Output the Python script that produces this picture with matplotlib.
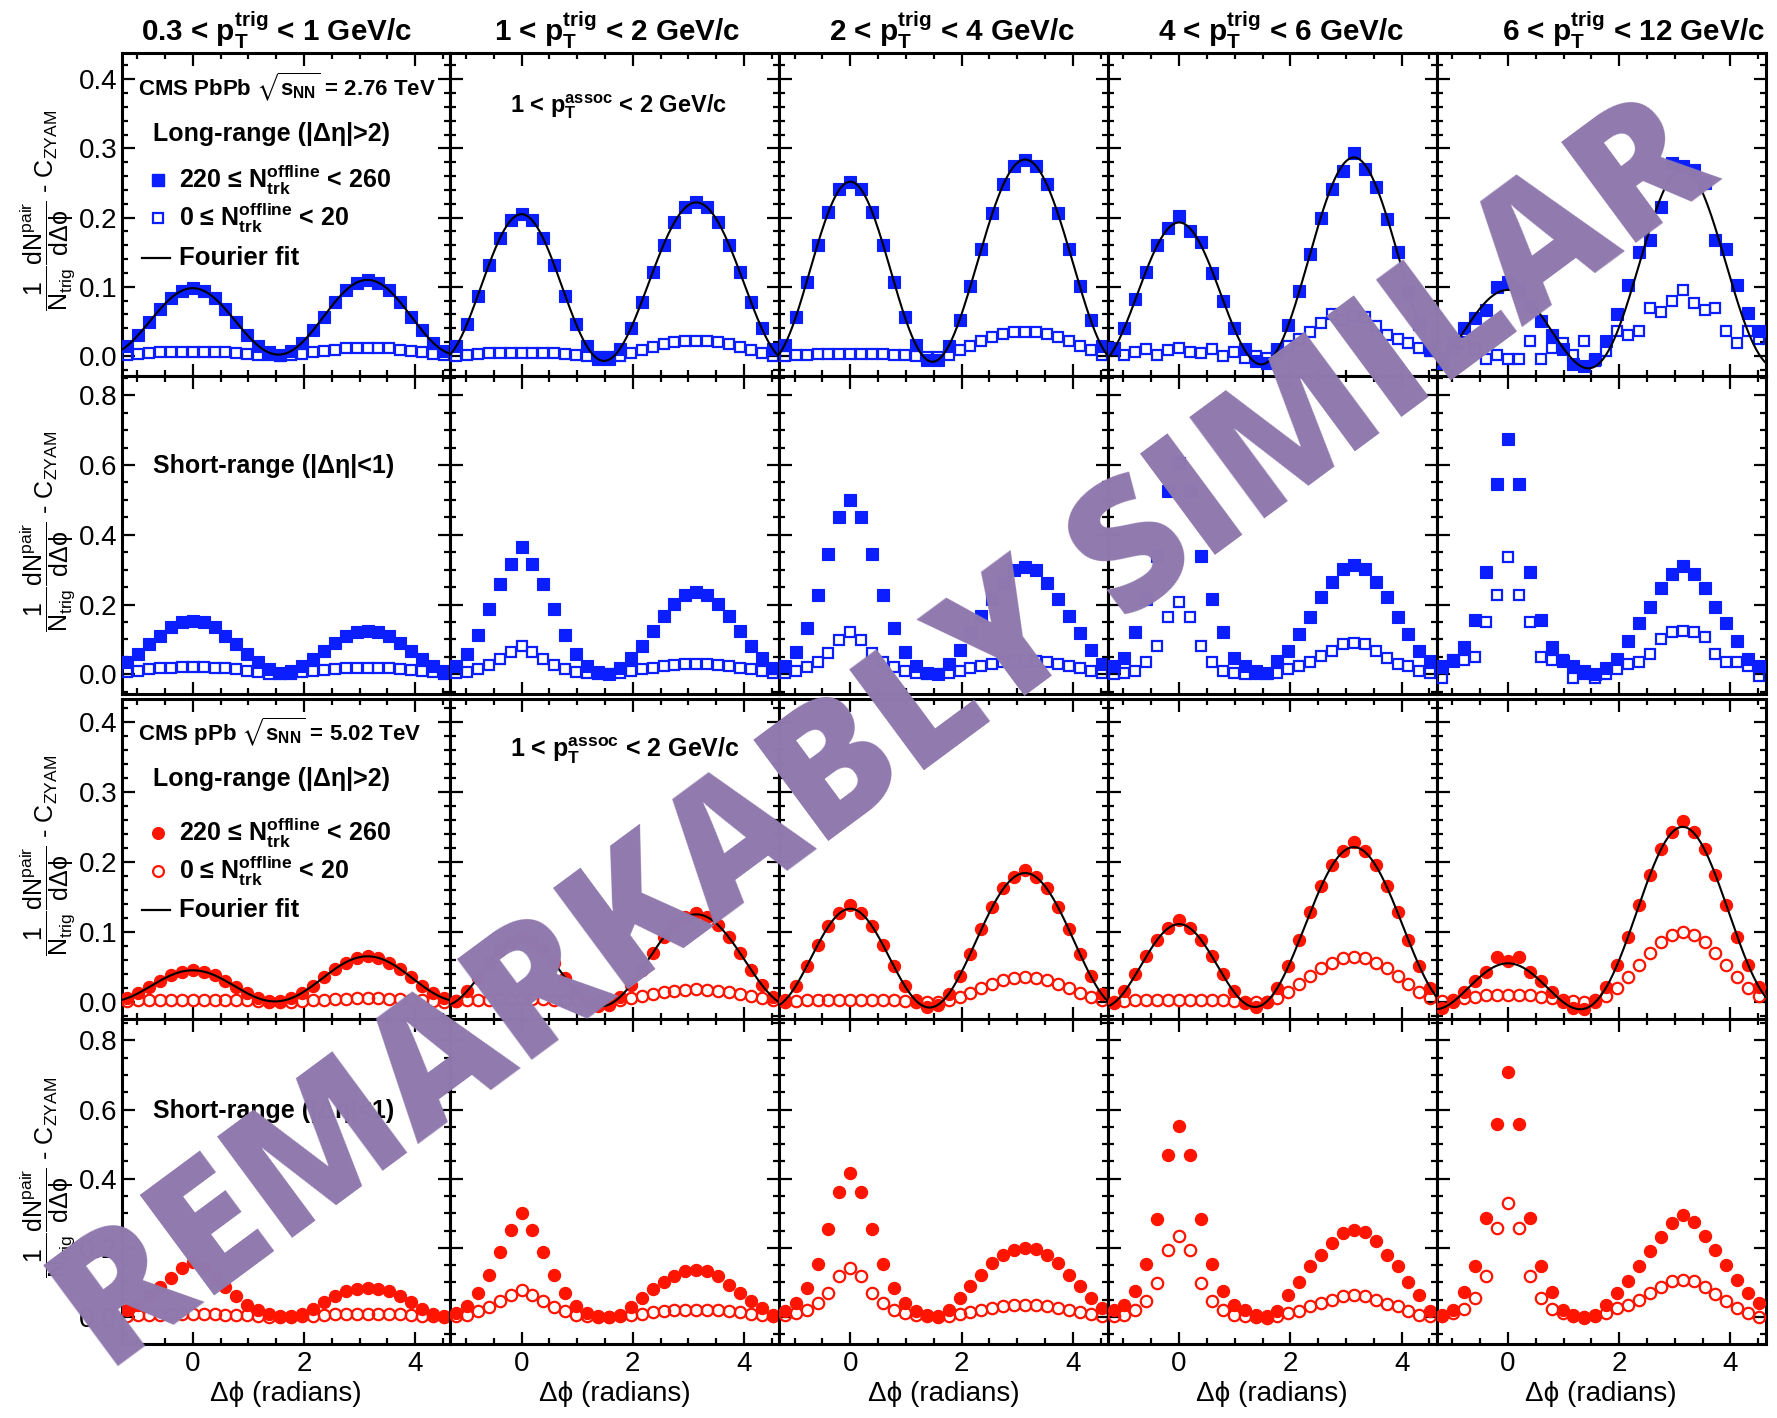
import numpy as np
import matplotlib
matplotlib.use("Agg")
import matplotlib.pyplot as plt
from matplotlib.ticker import MultipleLocator, FormatStrFormatter

plt.rcParams["font.family"] = ["Liberation Sans", "DejaVu Sans"]
plt.rcParams["mathtext.fontset"] = "custom"
plt.rcParams["mathtext.rm"] = "Liberation Sans"
plt.rcParams["mathtext.it"] = "Liberation Sans"
plt.rcParams["mathtext.bf"] = "Liberation Sans:bold"
plt.rcParams["mathtext.fallback"] = "stixsans"

# ---------- data ----------
# delta-phi bin centres (radians)
DPHI = [-1.178, -0.982, -0.785, -0.589, -0.393, -0.196, 0.000, 0.196, 0.393, 0.589,
        0.785, 0.982, 1.178, 1.374, 1.571, 1.767, 1.963, 2.160, 2.356, 2.553,
        2.749, 2.945, 3.142, 3.338, 3.534, 3.731, 3.927, 4.123, 4.320, 4.516]

PT_TRIG = ["0.3 < p$_{\\mathbf{T}}^{\\mathbf{trig}}$ < 1 GeV/c",
           "1 < p$_{\\mathbf{T}}^{\\mathbf{trig}}$ < 2 GeV/c",
           "2 < p$_{\\mathbf{T}}^{\\mathbf{trig}}$ < 4 GeV/c",
           "4 < p$_{\\mathbf{T}}^{\\mathbf{trig}}$ < 6 GeV/c",
           "6 < p$_{\\mathbf{T}}^{\\mathbf{trig}}$ < 12 GeV/c"]

# PbPb, long range, 220 <= Ntrk < 260 (filled squares)
PBPB_LR_HIGH = [
    [0.015, 0.030, 0.049, 0.068, 0.084, 0.094, 0.098, 0.094, 0.084, 0.068, 0.049, 0.030, 0.015, 0.005, 0.002,
     0.007, 0.019, 0.037, 0.057, 0.078, 0.095, 0.106, 0.110, 0.106, 0.095, 0.078, 0.057, 0.037, 0.019, 0.007],
    [0.014, 0.046, 0.087, 0.131, 0.170, 0.196, 0.205, 0.196, 0.170, 0.131, 0.087, 0.046, 0.014, -0.004, -0.005,
     0.010, 0.040, 0.078, 0.121, 0.161, 0.193, 0.215, 0.222, 0.215, 0.193, 0.161, 0.121, 0.078, 0.040, 0.010],
    [0.016, 0.056, 0.107, 0.161, 0.208, 0.241, 0.252, 0.241, 0.208, 0.161, 0.107, 0.056, 0.016, -0.006, -0.006,
     0.014, 0.052, 0.101, 0.155, 0.206, 0.248, 0.275, 0.284, 0.275, 0.248, 0.206, 0.155, 0.101, 0.052, 0.014],
    [0.012, 0.040, 0.082, 0.122, 0.160, 0.185, 0.203, 0.180, 0.165, 0.120, 0.080, 0.041, 0.010, -0.008, -0.010,
     0.010, 0.045, 0.094, 0.148, 0.200, 0.242, 0.268, 0.293, 0.270, 0.245, 0.198, 0.150, 0.092, 0.046, 0.008],
    [-0.010, 0.020, 0.040, 0.055, 0.067, 0.100, 0.107, 0.095, 0.072, 0.050, 0.030, 0.010, -0.012, -0.015, -0.005,
     0.021, 0.060, 0.102, 0.150, 0.167, 0.215, 0.279, 0.274, 0.269, 0.250, 0.167, 0.155, 0.102, 0.062, 0.036],
]
# PbPb, long range, 0 <= Ntrk < 20 (open squares)
PBPB_LR_LOW = [
    [0.002, 0.003, 0.004, 0.005, 0.006, 0.006, 0.006, 0.006, 0.006, 0.005, 0.004, 0.003, 0.002, 0.001, 0.000,
     0.001, 0.003, 0.005, 0.007, 0.009, 0.011, 0.012, 0.012, 0.012, 0.011, 0.009, 0.007, 0.005, 0.003, 0.001],
    [0.000, 0.002, 0.003, 0.004, 0.004, 0.004, 0.004, 0.004, 0.004, 0.004, 0.003, 0.002, 0.000, -0.002, -0.002,
     0.000, 0.004, 0.009, 0.013, 0.017, 0.020, 0.021, 0.022, 0.021, 0.020, 0.017, 0.013, 0.009, 0.004, 0.000],
    [0.000, 0.001, 0.002, 0.003, 0.003, 0.003, 0.003, 0.003, 0.003, 0.003, 0.002, 0.001, 0.000, -0.002, -0.002,
     0.002, 0.008, 0.015, 0.022, 0.028, 0.032, 0.034, 0.035, 0.034, 0.032, 0.028, 0.022, 0.015, 0.008, 0.002],
    [0.010, 0.002, 0.006, 0.010, 0.002, 0.008, 0.012, 0.006, 0.004, 0.010, 0.000, 0.005, -0.003, 0.000, -0.003,
     0.005, 0.015, 0.025, 0.035, 0.048, 0.060, 0.052, 0.058, 0.057, 0.043, 0.031, 0.024, 0.019, 0.012, 0.010],
    [-0.005, 0.012, 0.020, 0.010, -0.005, 0.002, -0.005, -0.005, 0.021, -0.005, 0.012, 0.019, 0.002, 0.021, -0.007,
     0.007, 0.036, 0.031, 0.036, 0.069, 0.064, 0.079, 0.095, 0.076, 0.067, 0.069, 0.036, 0.019, 0.036, 0.024],
]
# PbPb, short range
PBPB_SR_HIGH = [
    [0.034, 0.058, 0.087, 0.110, 0.135, 0.149, 0.154, 0.149, 0.135, 0.110, 0.087, 0.058, 0.034, 0.014, 0.005,
     0.010, 0.024, 0.043, 0.067, 0.091, 0.110, 0.120, 0.125, 0.120, 0.110, 0.091, 0.067, 0.043, 0.024, 0.010],
    [0.024, 0.058, 0.113, 0.186, 0.260, 0.317, 0.365, 0.317, 0.260, 0.186, 0.113, 0.058, 0.024, 0.007, 0.000,
     0.018, 0.048, 0.082, 0.125, 0.168, 0.202, 0.226, 0.236, 0.226, 0.202, 0.168, 0.125, 0.082, 0.048, 0.018],
    [0.024, 0.064, 0.133, 0.226, 0.344, 0.450, 0.500, 0.450, 0.344, 0.226, 0.133, 0.064, 0.024, 0.005, 0.000,
     0.030, 0.070, 0.118, 0.166, 0.216, 0.262, 0.298, 0.308, 0.298, 0.262, 0.216, 0.166, 0.118, 0.070, 0.030],
    [0.024, 0.048, 0.120, 0.216, 0.340, 0.524, 0.606, 0.524, 0.340, 0.216, 0.120, 0.048, 0.024, 0.010, 0.003,
     0.038, 0.067, 0.115, 0.163, 0.221, 0.264, 0.303, 0.313, 0.303, 0.264, 0.221, 0.163, 0.115, 0.067, 0.038],
    [0.024, 0.038, 0.077, 0.157, 0.293, 0.545, 0.673, 0.545, 0.293, 0.157, 0.077, 0.038, 0.024, 0.010, 0.000,
     0.019, 0.043, 0.096, 0.147, 0.192, 0.247, 0.288, 0.310, 0.288, 0.247, 0.192, 0.147, 0.096, 0.043, 0.024],
]
PBPB_SR_LOW = [
    [0.006, 0.010, 0.014, 0.017, 0.019, 0.020, 0.020, 0.020, 0.019, 0.017, 0.014, 0.010, 0.006, 0.002, 0.000,
     0.002, 0.006, 0.010, 0.013, 0.016, 0.018, 0.019, 0.019, 0.019, 0.018, 0.016, 0.013, 0.010, 0.006, 0.002],
    [0.003, 0.007, 0.015, 0.028, 0.045, 0.063, 0.080, 0.063, 0.045, 0.028, 0.015, 0.007, 0.003, 0.001, 0.000,
     0.003, 0.008, 0.014, 0.019, 0.024, 0.027, 0.029, 0.030, 0.029, 0.027, 0.024, 0.019, 0.014, 0.008, 0.003],
    [0.005, 0.010, 0.020, 0.035, 0.060, 0.098, 0.120, 0.098, 0.060, 0.035, 0.020, 0.010, 0.005, 0.002, 0.000,
     0.004, 0.010, 0.017, 0.024, 0.030, 0.034, 0.037, 0.038, 0.037, 0.034, 0.030, 0.024, 0.017, 0.010, 0.004],
    [0.002, 0.004, 0.010, 0.034, 0.082, 0.163, 0.207, 0.163, 0.082, 0.034, 0.010, 0.004, 0.002, 0.000, 0.000,
     0.005, 0.015, 0.024, 0.034, 0.053, 0.067, 0.087, 0.091, 0.087, 0.067, 0.048, 0.029, 0.024, 0.010, 0.005],
    [-0.010, 0.040, 0.041, 0.050, 0.149, 0.228, 0.337, 0.228, 0.149, 0.050, 0.041, 0.040, -0.010, 0.000, -0.010,
     0.000, 0.014, 0.029, 0.034, 0.058, 0.101, 0.120, 0.125, 0.120, 0.106, 0.058, 0.034, 0.034, 0.024, -0.005],
]
# pPb, long range (filled / open circles)
PPB_LR_HIGH = [
    [0.005, 0.012, 0.021, 0.030, 0.038, 0.043, 0.045, 0.043, 0.038, 0.030, 0.021, 0.012, 0.005, 0.001, 0.001,
     0.005, 0.013, 0.023, 0.035, 0.047, 0.056, 0.063, 0.065, 0.063, 0.056, 0.047, 0.035, 0.023, 0.013, 0.005],
    [0.001, 0.015, 0.034, 0.055, 0.074, 0.086, 0.093, 0.086, 0.074, 0.055, 0.034, 0.015, 0.001, -0.006, -0.004,
     0.007, 0.024, 0.046, 0.070, 0.092, 0.110, 0.121, 0.127, 0.121, 0.110, 0.092, 0.070, 0.046, 0.024, 0.007],
    [0.002, 0.022, 0.051, 0.081, 0.108, 0.127, 0.138, 0.127, 0.108, 0.081, 0.051, 0.022, 0.002, -0.008, -0.005,
     0.011, 0.037, 0.069, 0.104, 0.136, 0.162, 0.179, 0.188, 0.179, 0.162, 0.136, 0.104, 0.069, 0.037, 0.011],
    [-0.002, 0.015, 0.039, 0.065, 0.089, 0.106, 0.117, 0.106, 0.089, 0.065, 0.039, 0.015, -0.002, -0.007, 0.000,
     0.020, 0.051, 0.088, 0.128, 0.165, 0.195, 0.215, 0.229, 0.215, 0.195, 0.165, 0.128, 0.088, 0.051, 0.020],
    [-0.009, 0.000, 0.014, 0.029, 0.043, 0.064, 0.058, 0.064, 0.043, 0.029, 0.014, 0.000, -0.009, -0.010, -0.001,
     0.021, 0.053, 0.093, 0.138, 0.181, 0.218, 0.242, 0.259, 0.242, 0.218, 0.181, 0.138, 0.093, 0.053, 0.021],
]
PPB_LR_LOW = [
    [0.001, 0.002, 0.002, 0.003, 0.003, 0.003, 0.003, 0.003, 0.003, 0.003, 0.002, 0.002, 0.001, 0.000, 0.000,
     0.000, 0.001, 0.002, 0.003, 0.004, 0.004, 0.005, 0.005, 0.005, 0.004, 0.004, 0.003, 0.002, 0.001, 0.000],
    [0.001, 0.002, 0.003, 0.003, 0.004, 0.004, 0.004, 0.004, 0.004, 0.003, 0.003, 0.002, 0.001, 0.000, 0.000,
     0.002, 0.005, 0.008, 0.011, 0.014, 0.016, 0.017, 0.018, 0.017, 0.016, 0.014, 0.011, 0.008, 0.005, 0.002],
    [0.000, 0.001, 0.002, 0.003, 0.003, 0.003, 0.003, 0.003, 0.003, 0.003, 0.002, 0.001, 0.000, -0.001, -0.001,
     0.002, 0.007, 0.013, 0.020, 0.026, 0.031, 0.034, 0.035, 0.034, 0.031, 0.026, 0.020, 0.013, 0.007, 0.002],
    [0.000, 0.001, 0.002, 0.002, 0.003, 0.003, 0.003, 0.003, 0.003, 0.002, 0.002, 0.001, 0.000, -0.001, 0.000,
     0.005, 0.014, 0.025, 0.037, 0.048, 0.056, 0.062, 0.064, 0.062, 0.056, 0.048, 0.037, 0.025, 0.014, 0.005],
    [0.001, 0.003, 0.005, 0.007, 0.009, 0.010, 0.010, 0.010, 0.009, 0.007, 0.005, 0.003, 0.001, 0.000, 0.002,
     0.008, 0.020, 0.035, 0.052, 0.070, 0.085, 0.096, 0.100, 0.096, 0.085, 0.070, 0.052, 0.035, 0.020, 0.008],
]
# pPb, short range
PPB_SR_HIGH = [
    [0.020, 0.036, 0.060, 0.087, 0.112, 0.142, 0.160, 0.142, 0.112, 0.087, 0.060, 0.036, 0.020, 0.010, 0.004,
     0.003, 0.010, 0.024, 0.044, 0.062, 0.074, 0.081, 0.083, 0.081, 0.074, 0.062, 0.044, 0.024, 0.010, 0.003],
    [0.012, 0.033, 0.069, 0.122, 0.187, 0.251, 0.301, 0.251, 0.187, 0.122, 0.069, 0.033, 0.012, 0.003, 0.000,
     0.005, 0.028, 0.055, 0.080, 0.100, 0.118, 0.132, 0.137, 0.132, 0.118, 0.093, 0.069, 0.045, 0.026, 0.007],
    [0.016, 0.040, 0.084, 0.154, 0.255, 0.363, 0.416, 0.363, 0.255, 0.154, 0.084, 0.040, 0.016, 0.007, 0.002,
     0.021, 0.055, 0.089, 0.122, 0.156, 0.180, 0.195, 0.200, 0.197, 0.180, 0.156, 0.122, 0.089, 0.055, 0.026],
    [0.021, 0.036, 0.076, 0.154, 0.284, 0.469, 0.553, 0.469, 0.284, 0.154, 0.076, 0.036, 0.021, 0.007, 0.002,
     0.016, 0.065, 0.100, 0.147, 0.180, 0.214, 0.243, 0.253, 0.245, 0.219, 0.180, 0.147, 0.100, 0.065, 0.016],
    [0.007, 0.021, 0.071, 0.148, 0.286, 0.559, 0.710, 0.559, 0.286, 0.148, 0.071, 0.021, 0.007, -0.003, 0.005,
     0.035, 0.069, 0.103, 0.147, 0.190, 0.231, 0.272, 0.296, 0.274, 0.233, 0.193, 0.151, 0.108, 0.069, 0.040],
]
PPB_SR_LOW = [
    [0.003, 0.005, 0.006, 0.007, 0.008, 0.008, 0.008, 0.008, 0.008, 0.007, 0.006, 0.005, 0.003, 0.001, 0.000,
     0.001, 0.002, 0.004, 0.006, 0.008, 0.009, 0.010, 0.010, 0.010, 0.009, 0.008, 0.006, 0.004, 0.002, 0.001],
    [0.003, 0.007, 0.016, 0.030, 0.045, 0.065, 0.077, 0.065, 0.045, 0.030, 0.016, 0.007, 0.003, 0.001, 0.000,
     0.002, 0.006, 0.010, 0.014, 0.017, 0.019, 0.020, 0.020, 0.020, 0.019, 0.017, 0.014, 0.010, 0.006, 0.002],
    [0.006, 0.012, 0.021, 0.040, 0.069, 0.118, 0.142, 0.118, 0.069, 0.040, 0.021, 0.012, 0.006, 0.002, 0.000,
     0.003, 0.008, 0.014, 0.021, 0.027, 0.032, 0.035, 0.036, 0.035, 0.032, 0.027, 0.021, 0.014, 0.008, 0.003],
    [0.003, 0.007, 0.021, 0.045, 0.098, 0.195, 0.233, 0.195, 0.098, 0.045, 0.021, 0.007, 0.003, 0.000, -0.002,
     0.004, 0.012, 0.016, 0.031, 0.040, 0.050, 0.062, 0.065, 0.060, 0.050, 0.038, 0.031, 0.016, 0.007, 0.002],
    [0.003, 0.012, 0.023, 0.055, 0.120, 0.257, 0.330, 0.257, 0.120, 0.055, 0.023, 0.012, 0.003, 0.000, 0.003,
     0.012, 0.026, 0.036, 0.050, 0.069, 0.087, 0.103, 0.108, 0.103, 0.087, 0.066, 0.047, 0.026, 0.012, 0.000],
]

# Fourier fit coefficients a0 + a1 cos + a2 cos2 + a3 cos3 (long range, high multiplicity)
FIT_PBPB = [(0.053, -0.006, 0.051, 0.0), (0.104, -0.016, 0.1095, 0.0075), (0.131, -0.025, 0.137, 0.009),
            (0.115, -0.047, 0.125, 0.0), (0.084, -0.0775, 0.099, -0.010)]
FIT_PPB = [(0.028, -0.010, 0.027, 0.0), (0.052, -0.021, 0.056, 0.004), (0.077, -0.0315, 0.0815, 0.006),
           (0.083, -0.059, 0.083, 0.004), (0.076, -0.0925, 0.0765, -0.005)]

# ---------- style / layout ----------
W, H = 1777, 1418
BLUE = "#0a1eff"
RED = "#ff1400"
WATERMARK = "#9079ae"
XLIM = (-1.28, 4.63)
COL_X = [121.5, 450.3, 779.1, 1107.9, 1436.7]
COL_W = 328.8
ROW_Y = [(53.3, 376.0), (376.0, 694.0), (699.0, 1019.0), (1019.0, 1344.0)]
ROW_YLIM = [(-0.029, 0.4376), (-0.0565, 0.855), (-0.0246, 0.4327), (-0.078, 0.862)]
TITLE_X = [277, 617, 952, 1281, 1633]

ROWS = [
    (PBPB_LR_HIGH, PBPB_LR_LOW, FIT_PBPB, BLUE, "s", 0.1, 0.02),
    (PBPB_SR_HIGH, PBPB_SR_LOW, None, BLUE, "s", 0.2, 0.05),
    (PPB_LR_HIGH, PPB_LR_LOW, FIT_PPB, RED, "o", 0.1, 0.02),
    (PPB_SR_HIGH, PPB_SR_LOW, None, RED, "o", 0.2, 0.05),
]

YLABEL = (r"$\dfrac{1}{\mathrm{N_{trig}}}\dfrac{\mathrm{dN^{pair}}}{\mathrm{d}\Delta\phi}$"
          r" - C$_{\mathrm{ZYAM}}$")


def fx(px):
    return px / W


def fy(py):
    return 1 - py / H


fig = plt.figure(figsize=(W / 100, H / 100), dpi=100)
fig.patch.set_facecolor("white")

axes = {}
for r, (high, low, fits, color, mk, major, minor) in enumerate(ROWS):
    top, bot = ROW_Y[r]
    for c in range(5):
        ax = fig.add_axes([fx(COL_X[c]), fy(bot), COL_W / W, (bot - top) / H])
        axes[(r, c)] = ax
        ms = 8.4 if mk == "s" else 8.8
        ax.plot(DPHI, high[c], linestyle="none", marker=mk, ms=ms, mfc=color, mec=color, mew=0.8, zorder=3)
        ax.plot(DPHI, low[c], linestyle="none", marker=mk, ms=ms - 0.6, mfc="none", mec=color, mew=1.6, zorder=4)
        if fits is not None:
            a0, a1, a2, a3 = fits[c]
            phi = np.linspace(XLIM[0], XLIM[1], 400)
            fit = a0 + a1 * np.cos(phi) + a2 * np.cos(2 * phi) + a3 * np.cos(3 * phi)
            ax.plot(phi, fit, color="black", lw=1.5, zorder=5)
        ax.set_xlim(*XLIM)
        ax.set_ylim(*ROW_YLIM[r])
        ax.xaxis.set_major_locator(MultipleLocator(2))
        ax.xaxis.set_minor_locator(MultipleLocator(0.5))
        ax.yaxis.set_major_locator(MultipleLocator(major))
        ax.yaxis.set_minor_locator(MultipleLocator(minor))
        ax.yaxis.set_major_formatter(FormatStrFormatter("%.1f"))
        ax.tick_params(which="both", direction="in", top=True, right=True, width=1.6,
                       labelsize=20, colors="black")
        ax.tick_params(which="major", length=9)
        ax.tick_params(which="minor", length=4.5)
        ax.tick_params(axis="y", pad=3)
        ax.tick_params(axis="x", pad=5)
        if c != 0:
            ax.tick_params(labelleft=False)
        if r != 3:
            ax.tick_params(labelbottom=False)
        for s in ax.spines.values():
            s.set_linewidth(2.2)

# column titles
for c, t in enumerate(PT_TRIG):
    fig.text(fx(TITLE_X[c]), fy(30), t, ha="center", va="center", fontsize=21.3, fontweight="bold")

# y labels
for r in range(4):
    top, bot = ROW_Y[r]
    fig.text(fx(47), fy((top + bot) / 2 - 4), YLABEL, rotation=90, ha="center", va="center", fontsize=18)

# x labels
for c in range(5):
    fig.text(fx(COL_X[c] + COL_W / 2), fy(1394), "Δϕ (radians)", ha="center", va="center", fontsize=20)

# ---------- in-panel annotations ----------
BOLD = dict(fontweight="bold", va="center", ha="left")
for r, system, energy, color, mk in [(0, "PbPb", "2.76", BLUE, "s"), (2, "pPb", "5.02", RED, "o")]:
    ax = axes[(r, 0)]
    base = 0.897
    ax.text(0.05, base, "CMS %s $\\sqrt{\\mathbf{s}_{\\mathbf{NN}}}$ = %s TeV" % (system, energy),
            transform=ax.transAxes, fontsize=16, **BOLD)
    ax.text(0.095, base - 0.147, "Long-range (|Δη|>2)", transform=ax.transAxes, fontsize=18, **BOLD)
    y1 = base - 0.29 if r == 0 else base - 0.316
    y2 = y1 - 0.118
    y3 = y2 - 0.122
    ax.plot([0.112], [y1], marker=mk, ms=8.4, mfc=color, mec=color, transform=ax.transAxes)
    ax.plot([0.112], [y2], marker=mk, ms=7.8, mfc="none", mec=color, mew=1.6, transform=ax.transAxes)
    ax.plot([0.062, 0.148], [y3, y3], color="black", lw=1.6, transform=ax.transAxes)
    ax.text(0.175, y1, "220 ≤ $\\mathbf{N}_{\\mathbf{trk}}^{\\mathbf{offline}}$ < 260",
            transform=ax.transAxes, fontsize=18, **BOLD)
    ax.text(0.175, y2, "0 ≤ $\\mathbf{N}_{\\mathbf{trk}}^{\\mathbf{offline}}$ < 20",
            transform=ax.transAxes, fontsize=18, **BOLD)
    ax.text(0.175, y3, "Fourier fit", transform=ax.transAxes, fontsize=18.5, **BOLD)
    ax2 = axes[(r, 1)]
    ax2.text(0.182, 0.835 if r == 0 else 0.84, "1 < p$_{\\mathbf{T}}^{\\mathbf{assoc}}$ < 2 GeV/c",
             transform=ax2.transAxes, fontsize=17 if r == 0 else 18, **BOLD)

for r in (1, 3):
    axes[(r, 0)].text(0.095, 0.717, "Short-range (|Δη|<1)", transform=axes[(r, 0)].transAxes,
                      fontsize=18, **BOLD)

# ---------- watermark ----------
fig.text(fx(887), fy(740), "REMARKABLY SIMILAR", rotation=36.5, rotation_mode="anchor",
         ha="center", va="center", fontsize=127, fontweight="heavy", family="Open Sans",
         color=WATERMARK, zorder=50)

fig.savefig("out.png", dpi=100, facecolor="white")
